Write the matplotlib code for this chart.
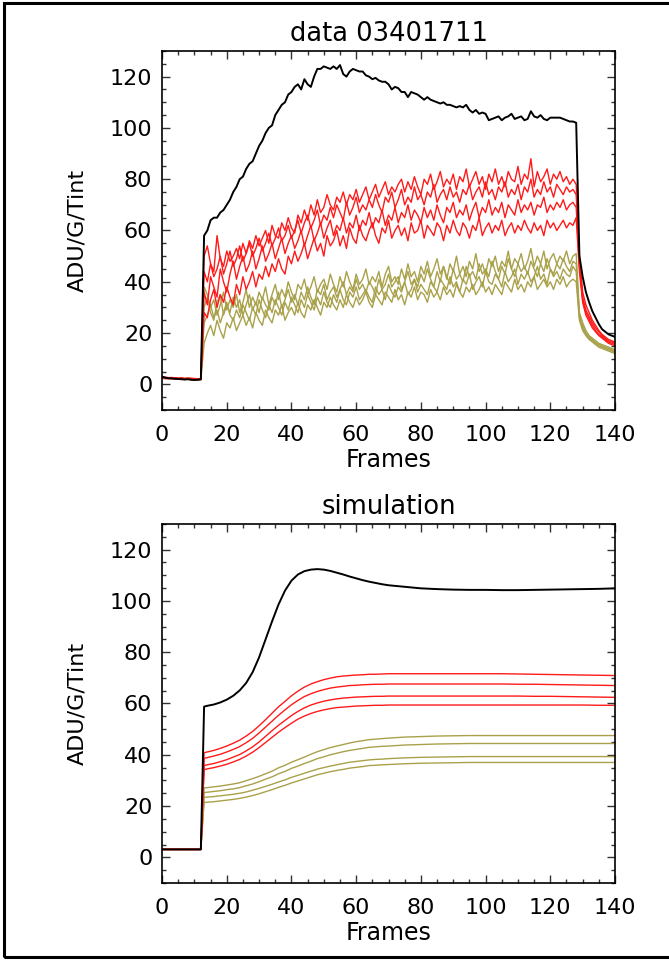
import matplotlib
matplotlib.use("Agg")
import matplotlib.pyplot as plt
from matplotlib.ticker import MultipleLocator
from matplotlib.patches import Rectangle

# ---------------- data panel (frames 0..140) ----------------
frames = list(range(0, 141))

data_black = [3.0, 2.6, 2.4, 2.3, 2.2, 2.1, 2.0, 1.9, 2.0, 1.8, 1.7, 1.8, 2.0,
              58, 60, 64, 65, 65, 67, 68, 70, 72, 75,
              77, 80, 81, 84, 86, 87, 90, 93, 95, 98,
              100, 101, 105, 107, 109, 110, 113, 114, 116, 117,
              115, 119, 117, 116, 120, 123, 123, 124, 123.5, 123,
              124, 123, 124.5, 121, 120, 122, 123, 122.5, 122, 122,
              120.5, 120, 119, 119.5, 118.5, 118, 118, 117, 115, 116,
              115.5, 114, 114, 112, 114, 113.5, 113, 112, 111, 112,
              111, 110.5, 110, 109.5, 110, 109, 109, 108.5, 108, 108.5,
              108, 109, 107, 106, 107, 105.5, 106, 105.5, 103, 103.5,
              104, 104.5, 103, 104, 104.5, 105.5, 103.5, 104, 104.5, 103,
              103.5, 106.5, 104.5, 104, 105, 103.5, 103, 104, 104, 104,
              104, 103.5, 103, 102.5, 102.5, 102,
              50, 42, 36, 32, 28.5, 26, 23.5, 21.5, 20.5, 19.5, 19, 18.5]

red1 = [3.0, 2.8, 2.6, 2.7, 2.5, 2.4, 2.6, 2.3, 2.5, 2.4, 2.3, 2.2, 2.1,
        50, 54, 47, 44, 58, 49, 46, 52, 48, 50,
        53, 49, 55, 51, 56, 53, 58, 54, 57, 60,
        55, 62, 58, 57, 63, 60, 65, 61, 59, 66,
        63, 68, 64, 70, 66, 72, 67, 69, 74, 70,
        68, 73, 71, 75, 70, 74, 72, 76, 71, 74,
        77, 72, 75, 78, 73, 76, 79, 74, 77, 75,
        78, 80, 75, 79, 76, 81, 77, 74, 80, 78,
        82, 76, 79, 83, 77, 80, 78, 82, 76, 81,
        79, 84, 77, 80, 83, 78, 81, 76, 82, 79,
        84, 78, 81, 77, 83, 80, 79, 85, 78, 82,
        80, 88, 77, 83, 79, 81, 84, 78, 82, 80,
        83, 79, 81, 78, 80, 78,
        50, 36, 31, 28, 25, 23, 21, 19.5, 18.5, 17.5, 17, 16.5]

red2 = [2.6, 2.5, 2.4, 2.5, 2.3, 2.2, 2.3, 2.1, 2.2, 2.0, 2.1, 1.9, 2.0,
        44, 40, 47, 42, 45, 50, 43, 47, 52, 46,
        49, 54, 48, 51, 55, 50, 53, 57, 52, 55,
        59, 54, 57, 61, 56, 58, 62, 57, 60, 64,
        59, 63, 66, 61, 64, 68, 62, 66, 64, 69,
        65, 70, 67, 64, 71, 66, 69, 73, 67, 70,
        68, 72, 69, 74, 70, 67, 73, 71, 75, 69,
        72, 76, 70, 73, 71, 77, 72, 74, 70, 75,
        73, 78, 71, 74, 76, 72, 77, 73, 75, 71,
        76, 74, 78, 72, 75, 77, 73, 79, 74, 76,
        72, 77, 75, 79, 73, 76, 74, 78, 72, 77,
        75, 80, 73, 76, 74, 79, 75, 77, 73, 78,
        76, 74, 77, 75, 76, 74,
        48, 34, 29, 26.5, 24, 22, 20.5, 19, 18, 17, 16.5, 16]

red3 = [2.8, 2.6, 2.5, 2.4, 2.6, 2.3, 2.4, 2.2, 2.3, 2.1, 2.2, 2.0, 2.1,
        36, 31, 42, 38, 34, 45, 40, 36, 43, 48,
        41, 46, 50, 44, 47, 52, 45, 49, 54, 48,
        51, 55, 49, 53, 57, 51, 55, 58, 53, 56,
        60, 54, 58, 62, 56, 59, 63, 57, 61, 64,
        58, 62, 60, 65, 59, 63, 61, 66, 60, 64,
        62, 67, 61, 65, 63, 68, 62, 66, 64, 69,
        63, 67, 65, 70, 64, 68, 66, 63, 69, 65,
        68, 64, 70, 66, 63, 69, 67, 71, 65, 68,
        66, 70, 64, 68, 71, 65, 69, 67, 72, 66,
        69, 67, 71, 65, 70, 68, 66, 72, 67, 70,
        68, 71, 66, 70, 69, 73, 67, 70, 68, 71,
        69, 72, 68, 70, 71, 69,
        46, 33, 28, 25.5, 23, 21, 19.5, 18.5, 17.5, 16.5, 16, 15.5]

red4 = [2.4, 2.3, 2.2, 2.3, 2.1, 2.0, 2.2, 1.9, 2.1, 1.9, 2.0, 1.8, 1.9,
        28, 26, 33, 37, 30, 35, 32, 38, 34, 31,
        39, 35, 42, 37, 40, 44, 38, 43, 41, 46,
        42, 47, 44, 49, 45, 43, 50, 47, 52, 48,
        51, 55, 49, 53, 57, 52, 55, 50, 58, 54,
        56, 60, 54, 58, 53, 61, 57, 55, 62, 58,
        56, 60, 63, 58, 55, 61, 59, 64, 57, 60,
        62, 58, 61, 56, 63, 59, 60, 64, 57, 62,
        60, 58, 63, 61, 56, 62, 59, 64, 60, 58,
        63, 61, 57, 62, 60, 65, 58, 61, 63, 59,
        62, 60, 64, 58, 61, 63, 59, 62, 60, 64,
        61, 59, 63, 60, 62, 58, 64, 61, 63, 60,
        62, 64, 61, 63, 62, 65,
        44, 32, 27, 24.5, 22, 20.5, 19, 18, 17, 16, 15.5, 15]

olive1 = [2.7, 2.6, 2.5, 2.6, 2.4, 2.3, 2.5, 2.2, 2.4, 2.2, 2.1, 2.0, 2.0,
          38, 35, 30, 33, 27, 31, 36, 29, 33, 30,
          35, 28, 32, 37, 30, 34, 31, 36, 33, 38,
          31, 35, 39, 33, 37, 34, 40, 36, 33, 39,
          37, 41, 35, 38, 42, 36, 39, 41, 37, 43,
          39, 36, 42, 38, 44, 40, 37, 43, 39, 41,
          45, 39, 42, 40, 44, 38, 43, 46, 40, 42,
          39, 45, 41, 47, 42, 44, 40, 46, 43, 48,
          42, 45, 49, 43, 46, 41, 47, 44, 50, 43,
          46, 42, 48, 45, 51, 44, 47, 43, 49, 46,
          50, 44, 48, 46, 52, 45, 49, 47, 51, 45,
          48, 53, 46, 50, 47, 52, 45, 49, 51, 47,
          50, 48, 52, 47, 50, 51,
          28, 24, 21, 19, 18, 17, 16, 15.5, 15, 14.5, 14, 13.5]

olive2 = [2.5, 2.4, 2.3, 2.4, 2.2, 2.1, 2.3, 2.0, 2.2, 2.0, 1.9, 1.8, 1.9,
          30, 34, 28, 25, 32, 35, 27, 31, 28, 34,
          30, 33, 27, 31, 35, 29, 32, 28, 34, 31,
          29, 34, 31, 36, 30, 33, 37, 32, 35, 31,
          36, 33, 38, 34, 31, 37, 35, 39, 33, 36,
          38, 34, 37, 40, 35, 38, 36, 41, 37, 39,
          36, 40, 38, 35, 41, 37, 39, 43, 38, 40,
          42, 37, 40, 44, 39, 41, 38, 43, 40, 45,
          41, 38, 44, 40, 46, 42, 39, 45, 41, 43,
          40, 46, 42, 44, 41, 47, 43, 45, 42, 48,
          44, 41, 46, 43, 49, 45, 42, 47, 44, 46,
          43, 48, 45, 42, 47, 44, 49, 45, 43, 47,
          45, 49, 46, 44, 48, 47,
          27, 23, 20, 18.5, 17.5, 16.5, 15.5, 15, 14.5, 14, 13.5, 13]

olive3 = [2.9, 2.7, 2.6, 2.5, 2.6, 2.4, 2.3, 2.4, 2.2, 2.3, 2.1, 2.2, 2.0,
          24, 27, 31, 26, 29, 24, 28, 32, 27, 25,
          29, 26, 31, 28, 25, 30, 27, 33, 29, 26,
          31, 28, 33, 30, 27, 32, 29, 34, 31, 28,
          33, 30, 35, 32, 29, 34, 31, 36, 32, 30,
          35, 32, 37, 33, 31, 36, 34, 38, 33, 35,
          37, 34, 32, 38, 35, 37, 33, 39, 36, 34,
          38, 36, 40, 35, 37, 41, 36, 39, 37, 35,
          40, 38, 36, 41, 39, 37, 42, 38, 40, 36,
          41, 39, 43, 37, 40, 42, 38, 44, 40, 39,
          43, 41, 38, 44, 40, 42, 45, 39, 43, 41,
          44, 40, 42, 46, 41, 43, 39, 45, 42, 44,
          41, 45, 43, 42, 46, 44,
          26, 22, 19.5, 18, 17, 16, 15, 14.5, 14, 13.5, 13, 12.5]

olive4 = [2.3, 2.2, 2.3, 2.1, 2.2, 2.0, 2.1, 1.9, 2.0, 1.8, 1.9, 1.8, 1.7,
          16, 20, 23, 19, 25, 21, 18, 24, 22, 26,
          21, 24, 27, 23, 26, 22, 28, 25, 23, 29,
          26, 24, 29, 27, 31, 25, 28, 30, 27, 32,
          28, 26, 31, 29, 33, 30, 27, 32, 30, 34,
          31, 29, 33, 30, 35, 32, 30, 34, 31, 33,
          36, 32, 30, 35, 33, 31, 36, 34, 32, 37,
          33, 35, 31, 36, 34, 38, 33, 36, 35, 32,
          37, 34, 36, 33, 38, 35, 37, 34, 39, 36,
          34, 38, 36, 39, 35, 37, 40, 36, 38, 35,
          39, 37, 35, 40, 38, 36, 41, 37, 39, 36,
          40, 38, 42, 37, 39, 41, 38, 40, 37, 41,
          39, 42, 38, 40, 41, 40,
          25, 21, 19, 17.5, 16.5, 15.5, 14.5, 14, 13.5, 13, 12.5, 12]

# ---------------- simulation panel ----------------
sim_frames = [0, 12, 13, 14, 16, 18, 20, 22, 24, 26, 28, 30, 32, 34, 36, 38,
              40, 42, 44, 46, 48, 50, 52, 54, 56, 58, 60, 62, 64, 66, 68, 70,
              75, 80, 85, 90, 95, 100, 105, 110, 115, 120, 125, 130, 135, 140]

sim_black = [3.1, 3.1, 58.8, 59.1, 59.6, 60.4, 61.5, 63.0, 65.1, 68.0, 72.2,
             78.0, 85.0, 92.0, 98.6, 104.0, 107.9, 110.3, 111.6, 112.2, 112.4,
             112.2, 111.7, 111.0, 110.3, 109.5, 108.8, 108.1, 107.5, 107.0,
             106.5, 106.1, 105.5, 104.9, 104.6, 104.4, 104.3, 104.3, 104.2,
             104.2, 104.3, 104.4, 104.5, 104.6, 104.7, 104.9]

sim_red1 = [3.1, 3.1, 40.8, 41.1, 41.7, 42.5, 43.4, 44.5, 45.7, 47.3, 49.1,
            51.3, 53.7, 56.2, 58.7, 60.8, 63.0, 64.8, 66.4, 67.6, 68.5, 69.3,
            69.9, 70.4, 70.7, 70.9, 71.1, 71.2, 71.4, 71.4, 71.5, 71.6, 71.6,
            71.6, 71.6, 71.6, 71.6, 71.6, 71.6, 71.5, 71.4, 71.3, 71.2, 71.1,
            71.0, 70.9]
sim_red2 = [3.1, 3.1, 38.6, 38.9, 39.5, 40.2, 41.1, 42.1, 43.2, 44.7, 46.4,
            48.5, 50.8, 53.1, 55.4, 57.5, 59.5, 61.2, 62.7, 63.8, 64.7, 65.4,
            66.0, 66.4, 66.7, 67.0, 67.1, 67.3, 67.4, 67.5, 67.5, 67.6, 67.6,
            67.6, 67.6, 67.6, 67.6, 67.6, 67.6, 67.5, 67.5, 67.4, 67.3, 67.2,
            67.1, 67.0]
sim_red3 = [3.1, 3.1, 35.8, 36.1, 36.6, 37.3, 38.1, 39.1, 40.1, 41.5, 43.1,
            45.0, 47.2, 49.4, 51.5, 53.4, 55.3, 56.9, 58.3, 59.4, 60.2, 60.9,
            61.4, 61.8, 62.1, 62.3, 62.5, 62.6, 62.7, 62.8, 62.8, 62.9, 62.9,
            62.9, 62.9, 62.9, 62.9, 62.9, 62.9, 62.9, 62.8, 62.8, 62.7, 62.6,
            62.5, 62.4]
sim_red4 = [3.1, 3.1, 34.2, 34.5, 35.0, 35.6, 36.3, 37.2, 38.2, 39.5, 41.0,
            42.8, 44.8, 46.8, 48.8, 50.6, 52.3, 53.9, 55.1, 56.1, 56.9, 57.5,
            58.0, 58.4, 58.6, 58.8, 59.0, 59.1, 59.2, 59.3, 59.3, 59.4, 59.4,
            59.4, 59.4, 59.4, 59.4, 59.4, 59.4, 59.4, 59.4, 59.4, 59.4, 59.4,
            59.3, 59.3]

sim_olive1 = [3.1, 3.1, 27.1, 27.2, 27.5, 27.8, 28.2, 28.6, 29.1, 29.9, 30.7,
              31.6, 32.6, 33.6, 34.9, 35.9, 37.1, 38.1, 39.1, 40.2, 41.2, 42.0,
              42.8, 43.4, 44.0, 44.6, 45.1, 45.5, 45.9, 46.1, 46.3, 46.5, 46.9,
              47.1, 47.3, 47.4, 47.5, 47.5, 47.5, 47.5, 47.5, 47.5, 47.5, 47.5,
              47.5, 47.5]
sim_olive2 = [3.1, 3.1, 25.3, 25.4, 25.7, 26.0, 26.4, 26.7, 27.2, 27.9, 28.6,
              29.5, 30.5, 31.4, 32.6, 33.5, 34.7, 35.6, 36.6, 37.5, 38.5, 39.2,
              40.0, 40.6, 41.2, 41.7, 42.1, 42.5, 42.9, 43.1, 43.3, 43.4, 43.8,
              44.0, 44.2, 44.3, 44.4, 44.4, 44.4, 44.4, 44.4, 44.4, 44.4, 44.4,
              44.4, 44.4]
sim_olive3 = [3.1, 3.1, 23.4, 23.5, 23.7, 24.0, 24.3, 24.6, 25.0, 25.5, 26.2,
              26.9, 27.7, 28.5, 29.4, 30.2, 31.2, 32.0, 32.8, 33.6, 34.4, 35.0,
              35.6, 36.1, 36.6, 37.1, 37.4, 37.7, 38.0, 38.2, 38.3, 38.5, 38.8,
              39.0, 39.1, 39.2, 39.3, 39.3, 39.3, 39.3, 39.3, 39.3, 39.3, 39.3,
              39.3, 39.3]
sim_olive4 = [3.1, 3.1, 21.4, 21.5, 21.7, 22.0, 22.3, 22.6, 23.0, 23.5, 24.1,
              24.8, 25.6, 26.4, 27.3, 28.1, 29.0, 29.8, 30.6, 31.4, 32.2, 32.8,
              33.4, 33.9, 34.3, 34.8, 35.1, 35.4, 35.8, 35.9, 36.1, 36.2, 36.5,
              36.7, 36.8, 36.9, 37.0, 37.0, 37.0, 37.0, 37.0, 37.0, 37.0, 37.0,
              37.0, 37.0]

titles = ["data 03401711", "simulation"]
xlabel = "Frames"
ylabel = "ADU/G/Tint"
xticks = [0, 20, 40, 60, 80, 100, 120, 140]
yticks = [0, 20, 40, 60, 80, 100, 120]

RED = "#ff1a1a"
OLIVE = "#a9a14a"

plt.rcParams['font.family'] = ['DejaVu Sans']
FS = 16

fig = plt.figure(figsize=(6.69, 9.60), dpi=100)
ax1 = fig.add_axes([0.2422, 0.5729, 0.6771, 0.3740])
ax2 = fig.add_axes([0.2422, 0.0802, 0.6771, 0.3740])

for s in [olive4, olive3, olive2, olive1]:
    ax1.plot(frames, s, color=OLIVE, lw=1.0)
for s in [red4, red3, red2, red1]:
    ax1.plot(frames, s, color=RED, lw=1.0)
ax1.plot(frames, data_black, color="black", lw=1.4)

for s in [sim_olive4, sim_olive3, sim_olive2, sim_olive1]:
    ax2.plot(sim_frames, s, color=OLIVE, lw=1.0)
for s in [sim_red4, sim_red3, sim_red2, sim_red1]:
    ax2.plot(sim_frames, s, color=RED, lw=1.0)
ax2.plot(sim_frames, sim_black, color="black", lw=1.4)

for ax, t in zip([ax1, ax2], titles):
    ax.set_xlim(0, 140)
    ax.set_ylim(-10, 130)
    ax.set_xticks(xticks)
    ax.set_yticks(yticks)
    ax.xaxis.set_minor_locator(MultipleLocator(5))
    ax.yaxis.set_minor_locator(MultipleLocator(5))
    ax.tick_params(which="both", direction="in", top=True, right=True,
                   width=1.0, color="#333333")
    ax.tick_params(which="major", length=6)
    ax.tick_params(which="minor", length=3)
    ax.tick_params(axis="x", which="major", pad=11, labelsize=FS)
    ax.tick_params(axis="y", which="major", pad=7, labelsize=FS)
    for sp in ax.spines.values():
        sp.set_linewidth(1.2)
    ax.set_title(t, fontsize=18.5, pad=7)
    ax.set_xlabel(xlabel, fontsize=17, labelpad=2)
    ax.set_ylabel(ylabel, fontsize=16, labelpad=16)

fig.patches.append(Rectangle((4 / 669, 3 / 960), 1.05, 954 / 960,
                             transform=fig.transFigure, fill=False,
                             edgecolor="black", linewidth=2.2))

fig.savefig("out.png", dpi=100)
